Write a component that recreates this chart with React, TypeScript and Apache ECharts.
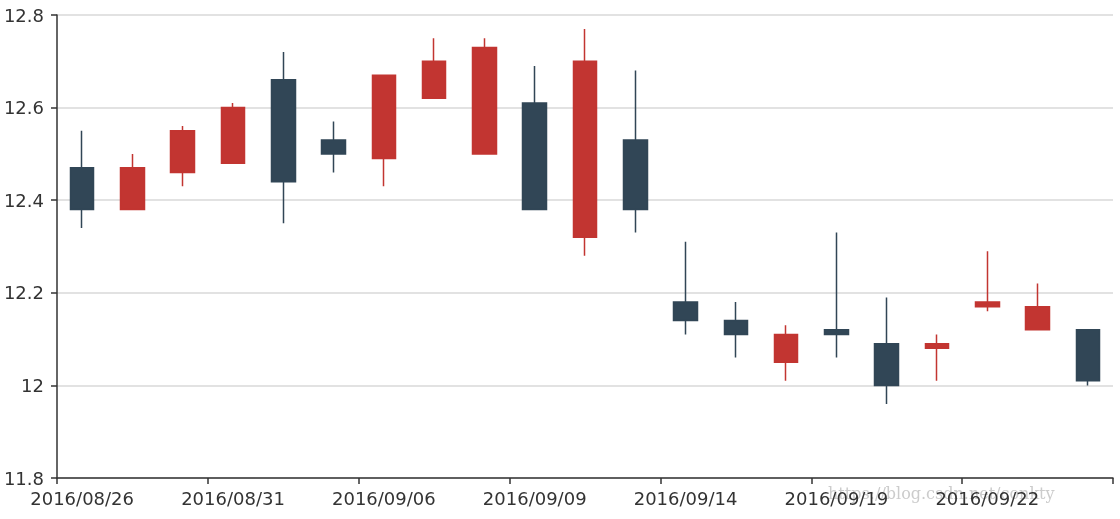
import React, { useEffect, useRef } from "react";
import * as echarts from "echarts";

const dates = [
  "2016/08/26", "2016/08/29", "2016/08/30", "2016/08/31", "2016/09/01", "2016/09/02",
  "2016/09/06", "2016/09/07", "2016/09/08", "2016/09/09", "2016/09/12", "2016/09/13",
  "2016/09/14", "2016/09/15", "2016/09/16", "2016/09/19", "2016/09/20", "2016/09/21",
  "2016/09/22", "2016/09/23", "2016/09/26",
];

// [open, close, lowest, highest]
const opens = [12.47, 12.38, 12.46, 12.48, 12.66, 12.53, 12.49, 12.62, 12.50, 12.61, 12.32, 12.53, 12.18, 12.14, 12.05, 12.12, 12.09, 12.08, 12.17, 12.12, 12.12];
const closes = [12.38, 12.47, 12.55, 12.60, 12.44, 12.50, 12.67, 12.70, 12.73, 12.38, 12.70, 12.38, 12.14, 12.11, 12.11, 12.11, 12.00, 12.09, 12.18, 12.17, 12.01];
const lows = [12.34, 12.38, 12.43, 12.48, 12.35, 12.46, 12.43, 12.62, 12.50, 12.38, 12.28, 12.33, 12.11, 12.06, 12.01, 12.06, 11.96, 12.01, 12.16, 12.12, 12.00];
const highs = [12.55, 12.50, 12.56, 12.61, 12.72, 12.57, 12.67, 12.75, 12.75, 12.69, 12.77, 12.68, 12.31, 12.18, 12.13, 12.33, 12.19, 12.11, 12.29, 12.22, 12.12];

const yMin = 11.8;
const yMax = 12.8;
const yStep = 0.2;

export default function App() {
  const ref = useRef<HTMLDivElement>(null);
  useEffect(() => {
    if (!ref.current) return;
    const chart = echarts.init(ref.current, null, { renderer: "svg" });
    const data = opens.map((o, i) => [o, closes[i], lows[i], highs[i]]);
    const labelFont = { fontFamily: "DejaVu Sans", fontSize: 18, color: "#333" };
    chart.setOption({
      animation: false,
      grid: { left: 57, right: 7, top: 15, bottom: 41 },
      xAxis: {
        type: "category",
        data: dates,
        boundaryGap: true,
        axisLine: { show: true, lineStyle: { color: "#333", width: 1.5 } },
        axisTick: { show: true, interval: 2, length: 6, lineStyle: { color: "#333", width: 1.5 } },
        axisLabel: { interval: 2, margin: 11, ...labelFont },
        splitLine: { show: false },
      },
      yAxis: {
        type: "value",
        min: yMin,
        max: yMax,
        interval: yStep,
        axisLine: { show: true, lineStyle: { color: "#333", width: 1.5 } },
        axisTick: { show: true, length: 6, lineStyle: { color: "#333", width: 1.5 } },
        axisLabel: { margin: 13, ...labelFont },
        splitLine: { show: true, lineStyle: { color: "#d9d9d9", width: 1.5 } },
      },
      graphic: [
        {
          type: "text",
          left: 828,
          top: 485,
          z: -1,
          style: {
            text: "https://blog.csdn.net/conkty",
            fontFamily: "DejaVu Serif",
            fontSize: 16,
            fill: "#cccccc",
          },
        },
      ],
      series: [
        {
          type: "candlestick",
          data,
          barWidth: 24,
          itemStyle: {
            color: "#c23531",
            color0: "#314656",
            borderColor: "#c23531",
            borderColor0: "#314656",
            borderWidth: 1.5,
          },
        },
      ],
    });
    return () => chart.dispose();
  }, []);
  return (
    <div
      ref={ref}
      style={{ position: "fixed", left: 0, top: 0, width: 1120, height: 519 }}
    />
  );
}
